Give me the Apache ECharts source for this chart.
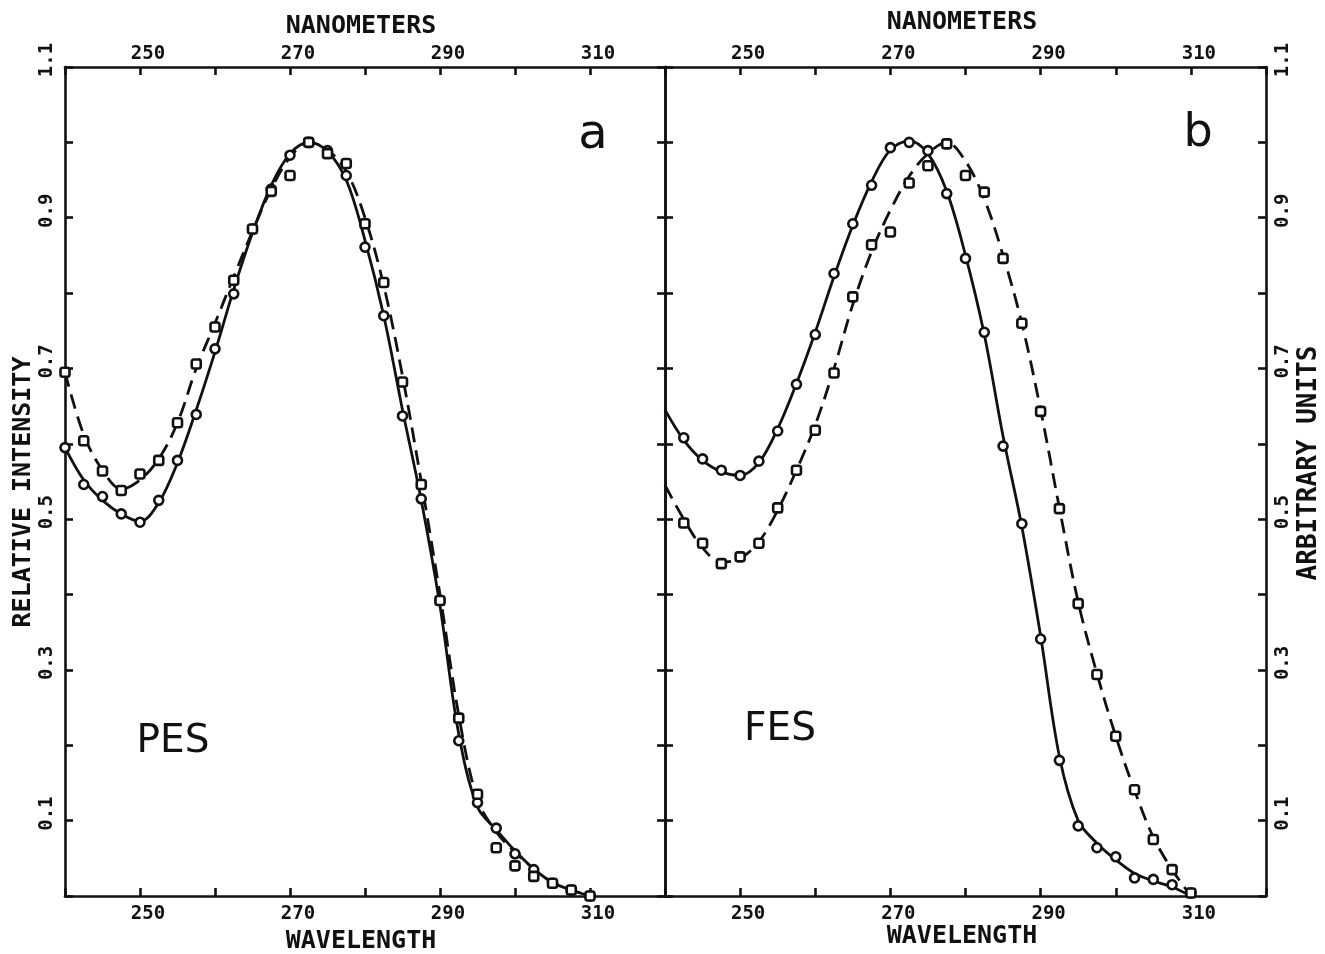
<!DOCTYPE html>
<html>
<head>
<meta charset="utf-8">
<script src="https://cdn.jsdelivr.net/npm/echarts@6/dist/echarts.min.js"></script>
<style>
  html, body { margin: 0; padding: 0; background: #ffffff; }
  #chart { width: 1325px; height: 954px; }
</style>
</head>
<body>
<div id="chart"></div>
<script>
// Emission / excitation spectra, wavelength in nanometers (2.5 nm steps)
const wavelengths = [240, 242.5, 245, 247.5, 250, 252.5, 255, 257.5, 260, 262.5, 265, 267.5, 270, 272.5,
  275, 277.5, 280, 282.5, 285, 287.5, 290, 292.5, 295, 297.5, 300, 302.5, 305, 307.5, 310];

// Panel a (PES): measured points
const pesSolidPoints = [0.595, 0.546, 0.530, 0.507, 0.496, 0.525, 0.578, 0.639, 0.726, 0.799, 0.885, 0.938, 0.983, 1.000,
  0.989, 0.956, 0.861, 0.770, 0.637, 0.527, 0.392, 0.206, 0.124, 0.090, 0.056, 0.035, 0.017, 0.008, 0.000];
const pesDashedPoints = [0.695, 0.604, 0.564, 0.538, 0.560, 0.578, 0.628, 0.706, 0.755, 0.817, 0.885, 0.935, 0.956, 1.000,
  0.985, 0.972, 0.892, 0.814, 0.682, 0.546, 0.392, 0.236, 0.135, 0.064, 0.040, 0.026, 0.017, 0.008, 0.000];
// Panel a (PES): fitted curves
const pesSolidCurve = [0.595, 0.552, 0.525, 0.507, 0.497, 0.522, 0.575, 0.645, 0.722, 0.805, 0.880, 0.943, 0.985, 1.000,
  0.988, 0.950, 0.870, 0.770, 0.645, 0.525, 0.385, 0.215, 0.118, 0.088, 0.060, 0.036, 0.018, 0.008, 0.000];
const pesDashedCurve = [0.695, 0.612, 0.565, 0.540, 0.552, 0.580, 0.628, 0.700, 0.760, 0.822, 0.882, 0.938, 0.980, 1.000,
  0.990, 0.962, 0.900, 0.810, 0.690, 0.550, 0.400, 0.240, 0.128, 0.085, 0.058, 0.036, 0.018, 0.008, 0.000];

// Panel b (FES): measured points
const fesSolidPoints = [null, 0.608, 0.580, 0.565, 0.558, 0.577, 0.617, 0.679, 0.745, 0.826, 0.892, 0.943, 0.993, 1.000,
  0.989, 0.932, 0.846, 0.748, 0.597, 0.494, 0.341, 0.180, 0.093, 0.064, 0.052, 0.024, 0.022, 0.015, 0.004];
const fesDashedPoints = [null, 0.495, 0.468, 0.441, 0.450, 0.468, 0.515, 0.565, 0.618, 0.694, 0.795, 0.864, 0.881, 0.946,
  0.969, 0.998, 0.956, 0.934, 0.846, 0.760, 0.643, 0.514, 0.388, 0.294, 0.212, 0.141, 0.075, 0.035, 0.004];
// Panel b (FES): fitted curves
const fesSolidCurve = [0.645, 0.605, 0.578, 0.563, 0.558, 0.575, 0.620, 0.680, 0.748, 0.822, 0.890, 0.948, 0.990, 1.002,
  0.985, 0.935, 0.850, 0.745, 0.610, 0.490, 0.345, 0.185, 0.100, 0.070, 0.048, 0.030, 0.020, 0.012, 0.000];
const fesDashedCurve = [0.545, 0.500, 0.462, 0.443, 0.448, 0.470, 0.512, 0.565, 0.625, 0.700, 0.785, 0.855, 0.910, 0.955,
  0.985, 1.000, 0.975, 0.925, 0.850, 0.760, 0.645, 0.515, 0.390, 0.295, 0.212, 0.140, 0.078, 0.035, 0.000];

// Axis ticks and labels
const xMin = 240, xMax = 320, xStep = 10;
const xLabelled = [250, 270, 290, 310];
const yMin = 0, yMax = 1.1, yStep = 0.1;
const yLabelled = ['0.1', '0.3', '0.5', '0.7', '0.9', '1.1'];

const INK = '#111111';
const MONO = '"DejaVu Sans Mono", monospace';
const SANS = '"DejaVu Sans", sans-serif';
const AXIS_LINE = { color: INK, width: 2.6 };

function xAxisFor(gridIndex, position) {
  return {
    type: 'value', gridIndex, position, min: xMin, max: xMax, interval: xStep,
    axisLine: { show: true, onZero: false, lineStyle: AXIS_LINE },
    axisTick: { show: true, inside: true, length: 8, lineStyle: AXIS_LINE },
    splitLine: { show: false },
    axisLabel: {
      show: true,
      formatter: v => (xLabelled.indexOf(Math.round(v)) >= 0 ? String(Math.round(v)) : ''),
      margin: position === 'top' ? 3 : 9,
      color: INK, fontFamily: MONO, fontWeight: 'bold', fontSize: 19,
      padding: [0, 0, 0, 16]
    }
  };
}

function yAxisFor(gridIndex, position, labelled) {
  return {
    type: 'value', gridIndex, position, min: yMin, max: yMax, interval: yStep,
    axisLine: { show: true, onZero: false, lineStyle: AXIS_LINE },
    axisTick: { show: true, inside: true, length: 8, lineStyle: AXIS_LINE },
    splitLine: { show: false },
    axisLabel: {
      show: labelled, rotate: 90,
      formatter: v => { const s = v.toFixed(1); return yLabelled.indexOf(s) >= 0 ? s : ''; },
      margin: 8,
      color: INK, fontFamily: MONO, fontWeight: 'bold', fontSize: 19,
      padding: [0, 0, 0, 14]
    }
  };
}

function pairs(values) {
  return wavelengths.map((w, i) => [w, values[i]]).filter(d => d[1] !== null);
}

function curve(xi, yi, values, dashed) {
  return {
    type: 'line', xAxisIndex: xi, yAxisIndex: yi, data: pairs(values),
    smooth: 0.35, symbol: 'none', silent: true, z: 2,
    lineStyle: { color: INK, width: 2.8, type: dashed ? [15, 8] : 'solid' }
  };
}

function points(xi, yi, values, symbol) {
  return {
    type: 'scatter', xAxisIndex: xi, yAxisIndex: yi, data: pairs(values),
    symbol, symbolSize: 9, z: 3,
    itemStyle: { color: '#ffffff', borderColor: INK, borderWidth: 2.6, opacity: 1 }
  };
}

function label(text, x, y, font, size, weight, rotation) {
  return {
    type: 'text', x, y, rotation: rotation || 0, silent: true,
    style: { text, fill: INK, font: `${weight} ${size}px ${font}`, textAlign: 'center', textVerticalAlign: 'middle' }
  };
}

const chart = echarts.init(document.getElementById('chart'), null, { renderer: 'canvas' });

chart.setOption({
  backgroundColor: '#ffffff',
  animation: false,
  grid: [
    { left: 65, top: 67, width: 600, height: 829 },
    { left: 665, top: 67, width: 601, height: 829 }
  ],
  xAxis: [
    xAxisFor(0, 'bottom'), xAxisFor(0, 'top'),
    xAxisFor(1, 'bottom'), xAxisFor(1, 'top')
  ],
  yAxis: [
    yAxisFor(0, 'left', true), yAxisFor(0, 'right', false),
    yAxisFor(1, 'left', false), yAxisFor(1, 'right', true)
  ],
  series: [
    curve(0, 0, pesSolidCurve, false),
    curve(0, 0, pesDashedCurve, true),
    points(0, 0, pesSolidPoints, 'circle'),
    points(0, 0, pesDashedPoints, 'roundRect'),
    curve(2, 2, fesSolidCurve, false),
    curve(2, 2, fesDashedCurve, true),
    points(2, 2, fesSolidPoints, 'circle'),
    points(2, 2, fesDashedPoints, 'roundRect')
  ],
  graphic: [
    label('NANOMETERS', 361, 26, MONO, 25, 'bold'),
    label('NANOMETERS', 962, 22, MONO, 25, 'bold'),
    label('WAVELENGTH', 361, 941, MONO, 25, 'bold'),
    label('WAVELENGTH', 962, 936, MONO, 25, 'bold'),
    label('RELATIVE INTENSITY', 23, 492, MONO, 25, 'bold', Math.PI / 2),
    label('ARBITRARY UNITS', 1309, 463, MONO, 26, 'bold', Math.PI / 2),
    label('a', 593, 136, SANS, 48, 'normal'),
    label('b', 1198, 134, SANS, 46, 'normal'),
    label('PES', 173, 742, SANS, 39, 'normal'),
    label('FES', 780, 730, SANS, 39, 'normal')
  ]
});
</script>
</body>
</html>
